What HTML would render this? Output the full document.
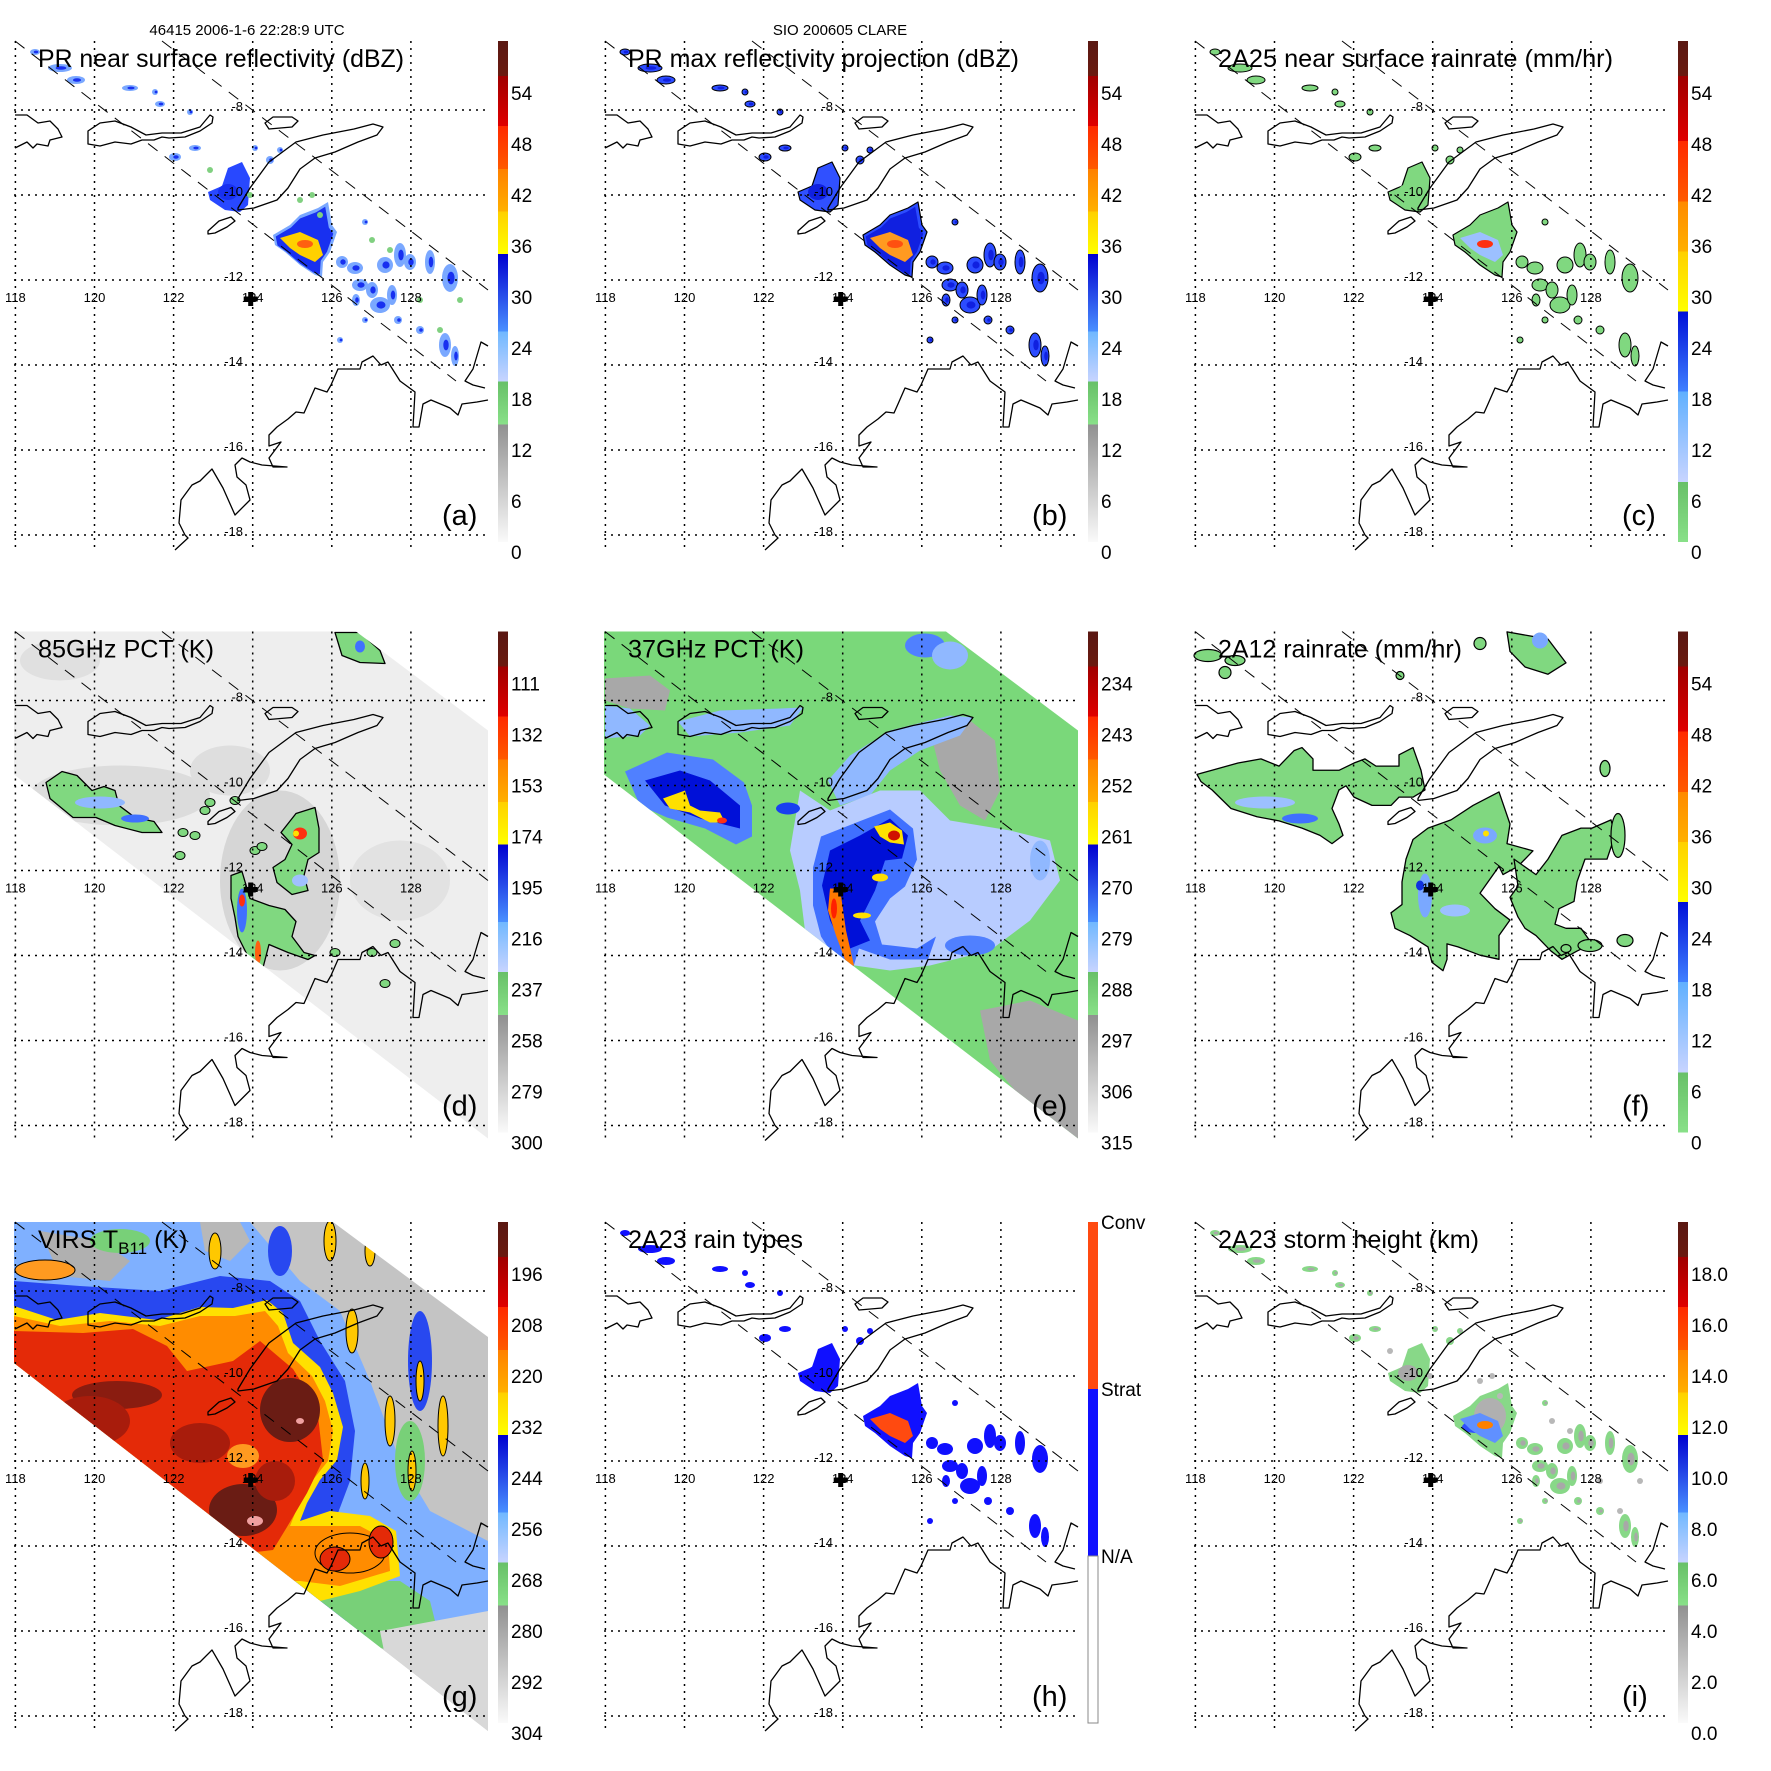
<!DOCTYPE html>
<html><head><meta charset="utf-8">
<style>
html,body{margin:0;padding:0;background:#fff;}
svg{display:block;}
text{font-family:"Liberation Sans",Arial,sans-serif;fill:#000;}
</style></head>
<body>
<svg id="fig" xmlns="http://www.w3.org/2000/svg" width="1771" height="1771" viewBox="0 0 1771 1771">
<defs id="defs"></defs>
<text x="247" y="35" font-size="15" text-anchor="middle">46415 2006-1-6 22:28:9 UTC</text>
<text x="840" y="35" font-size="15" text-anchor="middle">SIO 200605 CLARE</text>
</svg>
<script>
// ---- chart data (tick labels / axes) ----
const lonTicks = [118, 120, 122, 124, 126, 128];
const latTicks = [-8, -10, -12, -14, -16, -18];
const dbzTicks = ['54','48','42','36','30','24','18','12','6','0'];
const rainTicks = ['54','48','42','36','30','24','18','12','6','0'];
const pct85Ticks = ['111','132','153','174','195','216','237','258','279','300'];
const pct37Ticks = ['234','243','252','261','270','279','288','297','306','315'];
const virsTicks = ['196','208','220','232','244','256','268','280','292','304'];
const heightTicks = ['18.0','16.0','14.0','12.0','10.0','8.0','6.0','4.0','2.0','0.0'];
const rainTypeLabels = ['Conv','Strat','N/A'];
const stormCenter = [124.0, -12.4];

const NS = 'http://www.w3.org/2000/svg';
const svg = document.getElementById('fig');
const defs = document.getElementById('defs');
const COLX = [0, 590, 1180], ROWY = [0, 590.5, 1181];
function X(lon){ return 15.4 + (lon - 118) * 39.55; }
function Y(lat){ return 110 + (-8 - lat) * 42.5; }

function mk(tag, attrs, parent, name){
  const e = document.createElementNS(NS, tag);
  for (const k in attrs) e.setAttribute(k, attrs[k]);
  
  
  (parent || svg).appendChild(e);
  return e;
}
function P(pts){ return pts.map(p => p[0] + ',' + p[1]).join(' '); }
function poly(g, pts, fill, name, stroke, sw){
  return mk('polygon', {points: P(pts), fill: fill, stroke: stroke || 'none', 'stroke-width': sw || 1, 'stroke-linejoin':'round'}, g, name);
}
function ell(g, cx, cy, rx, ry, fill, name, stroke, sw){
  return mk('ellipse', {cx: cx, cy: cy, rx: rx, ry: ry, fill: fill, stroke: stroke || 'none', 'stroke-width': sw || 1}, g, name);
}

// ---- geometry (panel-local pixels) ----
const coastSumbawa = [[15,115],[27,115],[38,123],[50,121],[58,129],[62,137],[50,140],[48,146],[37,144],[33,148],[27,142],[15,148]];
const coastFlores = [[88,131],[100,123],[115,121],[131,127],[146,135],[162,133],[181,133],[200,127],[210,115],[213,117],[212,123],[200,131],[185,137],[169,138],[162,137],[154,140],[142,140],[131,144],[115,142],[100,146],[88,144]];
const coastWetar = [[265,123],[273,117],[292,117],[298,121],[292,127],[269,129]];
const coastTimor = [[238,208],[250,188],[269,162],[296,142],[323,135],[354,129],[373,124],[383,127],[377,135],[358,142],[335,152],[315,158],[300,169],[288,188],[277,200],[254,208],[238,210]];
const coastSumba = [[208,231],[219,221],[231,217],[235,221],[227,227],[215,233],[208,234]];
const coastAus = [[488,400],[477,402],[462,404],[458,415],[450,408],[431,400],[423,404],[419,427],[413,427],[415,392],[400,381],[388,362],[381,365],[373,356],[362,362],[360,369],[338,369],[331,385],[327,392],[315,388],[308,404],[304,413],[296,412],[288,419],[277,427],[269,435],[269,446],[281,442],[269,458],[273,467],[287,467],[262,465],[250,462],[242,458],[235,465],[237,477],[246,485],[250,500],[235,515],[223,488],[212,469],[200,481],[192,485],[181,500],[179,523],[185,535],[188,538],[175,550]];
const coastAus2 = [[488,346],[481,342],[473,369],[465,381],[473,385],[485,388]];

const tmiSwath = [[14,41],[356,41],[488,140],[488,548],[14,184]];
const virsSwath = [[14,41],[333,41],[488,156],[488,550],[14,182]];

const prCells = [[35,52,5,3],[60,68,12,4],[76,80,9,4],[130,88,8,3],[155,92,3,3],[160,104,5,3],[190,112,3,3],[175,157,6,4],[195,148,6,3],[255,148,3,3],[270,160,4,4],[280,150,3,3],[342,262,6,6],[355,268,8,6],[360,285,8,6],[372,290,6,8],[380,305,10,8],[392,295,5,10],[385,265,8,8],[400,255,6,12],[410,262,6,8],[430,262,5,12],[450,278,8,14],[398,320,4,4],[420,330,4,4],[445,345,6,12],[455,356,4,10],[340,340,3,3],[365,320,3,3],[365,222,3,3],[356,300,4,6]];
const prCluster2 = [[208,192],[222,186],[228,168],[242,162],[250,178],[248,205],[240,212],[225,210],[210,200]];
const prMain = [[273,235],[290,225],[300,215],[318,208],[328,202],[332,225],[337,232],[330,252],[323,262],[322,277],[315,275],[300,265],[285,252],[275,245]];
const prCore = [[280,238],[300,232],[318,240],[323,255],[315,262],[300,255],[290,248]];

function clipTo(g, id, shape){
  const cid = 'clip-' + id;
  const cp = mk('clipPath', {id: cid}, defs, 'swath-clip');
  poly(cp, shape, '#000', 'swath-clip-shape');
  return mk('g', {'clip-path':'url(#' + cid + ')'}, g, 'swath-clipped-layer');
}

// bands: [start, end, topColor, bottomColor]
function colorbarBands(kind){
  if (kind === 'rain') return [[0,0.07,'#5a1812','#6a1a10'],[0.07,0.2,'#a00000','#e00000'],[0.2,0.32,'#ff2a00','#ff5a00'],[0.32,0.42,'#ff8a00','#ffb000'],[0.42,0.54,'#ffd000','#ffff00'],[0.54,0.7,'#0010d8','#4080ff'],[0.7,0.88,'#60b0ff','#c8d4ff'],[0.88,1,'#68c068','#88e088']];
  return [[0,0.07,'#5a1812','#6a1a10'],[0.07,0.17,'#a00000','#e00000'],[0.17,0.255,'#ff2a00','#ff5a00'],[0.255,0.34,'#ff8000','#ffb000'],[0.34,0.425,'#ffd000','#ffff00'],[0.425,0.58,'#0000d0','#4a90ff'],[0.58,0.68,'#70b8ff','#c8d4ff'],[0.68,0.765,'#68c068','#88e088'],[0.765,1,'#909090','#fafafa']];
}
function drawColorbar(g, id, kind, ticks){
  const bar = mk('g', {}, g, 'colorbar');
  if (kind === 'types'){
    mk('rect', {x:498, y:41, width:10, height:167, fill:'#ff4a10'}, bar, 'colorbar-conv');
    mk('rect', {x:498, y:208, width:10, height:167, fill:'#1010ff'}, bar, 'colorbar-strat');
    mk('rect', {x:498, y:375, width:10, height:167, fill:'#fff', stroke:'#888', 'stroke-width':1}, bar, 'colorbar-na');
    const ys = [41, 208, 375];
    rainTypeLabels.forEach((t, i) => {
      const tx = mk('text', {x:511, y:ys[i] + 7, 'font-size':19}, bar, 'colorbar-label');
      tx.textContent = t;
    });
    return;
  }
  const gid = 'grad-' + id;
  const lg = mk('linearGradient', {id: gid, x1:0, y1:0, x2:0, y2:1}, defs, 'colorbar-gradient');
  colorbarBands(kind).forEach(b => {
    mk('stop', {offset: b[0], 'stop-color': b[2]}, lg, 'gradient-stop');
    mk('stop', {offset: b[1], 'stop-color': b[3]}, lg, 'gradient-stop');
  });
  mk('rect', {x:498, y:41, width:10, height:501, fill:'url(#' + gid + ')'}, bar, 'colorbar-fill');
  ticks.forEach((t, i) => {
    const tx = mk('text', {x:511, y:95 + 51 * i + 5, 'font-size':19}, bar, 'colorbar-tick-label');
    tx.textContent = t;
  });
}

function drawBase(g){
  const cg = mk('g', {fill:'none', stroke:'#000', 'stroke-width':1.3, 'stroke-linejoin':'round'}, g, 'coastlines');
  mk('polyline', {points: P(coastSumbawa)}, cg, 'coast-sumbawa');
  mk('polygon', {points: P(coastFlores)}, cg, 'coast-flores');
  mk('polygon', {points: P(coastWetar)}, cg, 'coast-wetar');
  mk('polygon', {points: P(coastTimor)}, cg, 'coast-timor');
  mk('polygon', {points: P(coastSumba)}, cg, 'coast-sumba');
  mk('polyline', {points: P(coastAus)}, cg, 'coast-australia');
  mk('polyline', {points: P(coastAus2)}, cg, 'coast-australia-east');
  const dg = mk('g', {stroke:'#000', 'stroke-width':1, 'stroke-dasharray':'12 9'}, g, 'pr-swath-edges');
  mk('line', {x1:162, y1:41, x2:488, y2:290}, dg, 'pr-swath-edge-upper');
  mk('line', {x1:15, y1:41, x2:456, y2:381}, dg, 'pr-swath-edge-lower');
  const gg = mk('g', {stroke:'#000', 'stroke-width':1.5, 'stroke-dasharray':'2 5'}, g, 'graticule');
  lonTicks.forEach(lon => {
    mk('line', {x1:X(lon), y1:41, x2:X(lon), y2:550}, gg, 'meridian');
    const t = mk('text', {x:X(lon), y:302, 'font-size':13, 'text-anchor':'middle', stroke:'none'}, g, 'lon-label');
    t.textContent = lon;
  });
  latTicks.forEach(lat => {
    mk('line', {x1:14, y1:Y(lat), x2:488, y2:Y(lat)}, gg, 'parallel');
    const t = mk('text', {x:243, y:Y(lat) + 1, 'font-size':13, 'text-anchor':'end'}, g, 'lat-label');
    t.textContent = lat;
  });
  const cx = X(stormCenter[0]) - 2, cy = Y(stormCenter[1]) + 2;
  mk('path', {d:'M'+(cx-7)+','+cy+' h14 M'+cx+','+(cy-7)+' v14', stroke:'#000', 'stroke-width':5}, g, 'storm-center-marker');
}

function drawTitle(g, text, len, sub){
  const t = mk('text', {x:38, y:67, 'font-size':25, textLength: len, lengthAdjust:'spacingAndGlyphs'}, g, 'panel-title');
  if (sub){
    t.removeAttribute('textLength');
    t.textContent = 'VIRS T';
    const s = mk('tspan', {'font-size':17, dy:6}, t, 'title-subscript');
    s.textContent = 'B11';
    const r = mk('tspan', {dy:-6}, t, 'title-units');
    r.textContent = ' (K)';
  } else t.textContent = text;
}
function drawLetter(g, letter){
  const t = mk('text', {x:442, y:525, 'font-size':29}, g, 'panel-letter');
  t.textContent = '(' + letter + ')';
}

function drawPR(g, kind){
  const st = {
    a: {cell:'#7aa8ff', edge:'none', inner:'#1830f0', c2:'#2848ff', core:'#ffd000', hot:'#ff6010', spk:'#80d080'},
    b: {cell:'#2c4cff', edge:'#000', inner:'#1020e0', c2:'#3050ff', core:'#ff9a20', hot:'#ff5010', spk:'#2c4cff'},
    c: {cell:'#80d880', edge:'#000', inner:'#80d880', c2:'#80d880', core:'#9cc0ff', hot:'#ff3010', spk:'#80d880'},
    h: {cell:'#1010ff', edge:'none', inner:'#1010ff', c2:'#1010ff', core:'#ff4a10', hot:'#ff4a10', spk:'#1010ff'},
    i: {cell:'#88d888', edge:'none', inner:'#a8a8a8', c2:'#88d888', core:'#6090ff', hot:'#ff8000', spk:'#b8b8b8'}
  }[kind];
  const d = mk('g', {}, g, 'pr-rain-cells');
  prCells.forEach(c => ell(d, c[0], c[1], c[2], c[3], st.cell, 'rain-cell', st.edge, 1));
  prCells.forEach(c => ell(d, c[0] + 1, c[1], c[2] * 0.45, c[3] * 0.45, st.inner, 'rain-cell-core'));
  poly(d, prCluster2, st.c2, 'rain-cluster-timor', st.edge, 1.2);
  ell(d, 228, 192, 10, 8, st.inner, 'rain-cluster-core');
  poly(d, prMain, st.cell, 'rain-main-storm', st.edge, 1.2);
  if (kind === 'a' || kind === 'b' || kind === 'h') poly(d, prMain.map(p => [p[0]*0.9+30, p[1]*0.9+25]), st.inner, 'rain-main-inner');
  if (kind === 'i') { ell(d, 310, 235, 16, 18, '#b0b0b0', 'height-grey'); ell(d, 296, 246, 14, 6, '#3050ff', 'height-blue'); }
  poly(d, prCore, st.core, 'rain-main-core');
  ell(d, 305, 244, 8, 4, st.hot, 'rain-hot-core');
  if (kind === 'a' || kind === 'i') {
    [[300,200],[312,195],[320,215],[250,195],[210,170],[390,250],[420,300],[440,330],[460,300],[372,240]].forEach(p => ell(d, p[0], p[1], 3, 3, st.spk, 'speckle'));
  }
}

const d85West = [[46,192],[62,181],[77,185],[92,200],[104,196],[115,200],[119,215],[135,227],[154,231],[162,242],[142,242],[115,235],[96,227],[73,227],[50,208]];
const d85East = [[281,242],[296,223],[315,217],[319,238],[319,262],[308,269],[304,285],[308,300],[292,304],[277,292],[273,277],[285,269],[292,254]];
const d85South = [[231,285],[242,281],[250,308],[269,315],[285,319],[296,331],[292,346],[304,362],[315,365],[308,369],[288,362],[269,354],[262,381],[254,381],[246,362],[238,346],[235,327],[231,308]];
const d85North = [[335,42],[360,42],[380,60],[385,73],[360,72],[342,65]];
function drawD(g){
  poly(g, tmiSwath, '#eeeeee', 'tmi-swath');
  const C = clipTo(g, 'd', tmiSwath);
  const sh = mk('g', {}, C, 'pct85-shading');
  ell(sh, 120, 205, 90, 30, '#dcdcdc', 'shade');
  ell(sh, 280, 290, 60, 90, '#d6d6d6', 'shade');
  ell(sh, 60, 70, 40, 20, '#e0e0e0', 'shade');
  ell(sh, 230, 180, 40, 25, '#dedede', 'shade');
  ell(sh, 400, 290, 50, 40, '#e2e2e2', 'shade');
  const bl = mk('g', {}, C, 'pct85-convection');
  [d85West, d85East, d85South, d85North].forEach(p => poly(bl, p, '#80d880', 'pct85-cell', '#000', 1.3));
  ell(bl, 100, 212, 25, 6, '#90b8ff', 'pct85-blue');
  ell(bl, 135, 228, 14, 4, '#4070ff', 'pct85-blue');
  ell(bl, 300, 243, 7, 6, '#ff3010', 'pct85-red');
  ell(bl, 296, 243, 3, 3, '#ffe000', 'pct85-yellow');
  ell(bl, 300, 290, 8, 6, '#a0c0ff', 'pct85-blue');
  ell(bl, 242, 320, 5, 22, '#4070ff', 'pct85-blue');
  ell(bl, 242, 310, 3, 6, '#ff3010', 'pct85-red');
  ell(bl, 258, 362, 3, 12, '#ff6010', 'pct85-red');
  ell(bl, 360, 56, 5, 6, '#4070ff', 'pct85-blue');
  [[183,242],[195,245],[210,212],[205,220],[235,210],[255,260],[180,265],[262,256],[372,362],[395,353],[385,393],[335,362]].forEach(p => ell(bl, p[0], p[1], 5, 4, '#80d880', 'pct85-small', '#000', 1));
}

function drawE(g){
  poly(g, tmiSwath, '#7ad87a', 'tmi-swath');
  const L = clipTo(g, 'e', tmiSwath);
  poly(L, [[15,88],[60,85],[80,100],[75,120],[40,118],[15,110]], '#a8a8a8', 'pct37-grey');
  poly(L, [[340,140],[380,130],[405,150],[410,200],[395,230],[370,215],[350,180]], '#a8a8a8', 'pct37-grey');
  poly(L, [[390,420],[440,410],[488,430],[488,548],[440,518],[400,470]], '#a8a8a8', 'pct37-grey');
  poly(L, [[88,131],[130,120],[190,118],[213,117],[200,135],[150,142],[100,146]], '#90b8ff', 'pct37-lightblue');
  poly(L, [[238,190],[260,165],[300,140],[360,125],[383,127],[370,145],[330,160],[300,180],[280,205],[250,215]], '#90b8ff', 'pct37-lightblue');
  poly(L, [[15,115],[40,118],[60,135],[50,145],[15,148]], '#90b8ff', 'pct37-lightblue');
  poly(L, [[210,200],[240,220],[290,200],[330,200],[360,230],[420,240],[460,250],[470,290],[440,330],[400,360],[340,375],[300,380],[230,370],[215,340],[210,300],[200,260]], '#b8ccff', 'pct37-lightblue');
  poly(L, [[35,181],[77,162],[123,169],[154,192],[162,215],[162,246],[146,254],[115,238],[77,227],[50,215]], '#5080ff', 'pct37-blue-west');
  poly(L, [[55,190],[90,180],[120,190],[150,215],[150,238],[110,228],[75,215]], '#0010d8', 'pct37-darkblue-west');
  poly(L, [[231,246],[269,231],[300,219],[323,238],[327,269],[315,296],[300,308],[285,331],[292,354],[327,358],[346,346],[338,369],[300,369],[269,358],[262,381],[246,369],[231,346],[223,315],[223,277]], '#4070ff', 'pct37-blue-center');
  poly(L, [[240,260],[270,245],[300,228],[318,245],[312,268],[295,270],[285,300],[270,330],[280,350],[255,360],[240,330],[232,295]], '#0010d8', 'pct37-darkblue-center');
  ell(L, 198, 218, 12, 6, '#1840f0', 'pct37-blue');
  ell(L, 335, 55, 20, 12, '#5080ff', 'pct37-blue-north');
  ell(L, 360, 65, 18, 14, '#90b8ff', 'pct37-lightblue-north');
  ell(L, 450, 270, 10, 20, '#90b8ff', 'pct37-lightblue');
  ell(L, 380, 355, 25, 10, '#5080ff', 'pct37-blue');
  poly(L, [[73,208],[95,200],[100,215],[110,220],[130,222],[135,232],[120,232],[100,222],[80,218]], '#ffe000', 'pct37-yellow-west');
  ell(L, 132, 230, 5, 3, '#ff3010', 'pct37-red');
  poly(L, [[284,236],[300,232],[312,240],[314,254],[300,252],[290,246]], '#ffe000', 'pct37-yellow-center');
  ell(L, 304, 245, 6, 5, '#d01000', 'pct37-red-center');
  ell(L, 290, 287, 8, 4, '#ffe000', 'pct37-yellow');
  poly(L, [[240,298],[250,298],[256,340],[264,375],[258,377],[246,345],[238,320]], '#ff7a00', 'pct37-orange-column');
  ell(L, 244, 318, 3, 10, '#ff2000', 'pct37-red-column');
  ell(L, 272, 325, 9, 3, '#ffe000', 'pct37-yellow');
}

const f12West = [[17,178],[32,174],[58,167],[81,163],[99,170],[114,155],[122,152],[133,163],[133,174],[159,174],[174,167],[185,163],[196,170],[219,170],[219,159],[233,152],[241,174],[245,193],[233,200],[219,200],[211,208],[192,208],[174,200],[166,189],[159,193],[152,211],[159,226],[163,237],[152,245],[140,237],[122,230],[99,223],[77,219],[51,211],[32,193],[21,185]];
const f12Main = [[233,241],[248,230],[271,222],[293,208],[319,195],[330,226],[327,245],[353,252],[338,267],[323,275],[319,267],[300,293],[315,308],[330,319],[319,334],[319,357],[300,353],[278,345],[267,342],[267,357],[263,368],[252,360],[248,345],[230,334],[215,327],[211,312],[222,304],[222,282],[226,260]];
const f12East = [[334,260],[356,275],[368,260],[382,237],[401,230],[412,230],[431,222],[435,237],[427,260],[405,260],[397,282],[394,301],[379,308],[375,323],[386,327],[401,327],[412,342],[397,349],[382,357],[371,349],[356,334],[345,327],[338,316],[330,297],[338,286]];
const f12North = [[327,40],[368,47],[386,70],[368,81],[345,74],[330,59]];
function fy(p){ return [p[0], (p[1] + 1) * 1.033 - 1]; }
function drawF(g){
  const L = mk('g', {}, g, 'rainrate-2a12');
  [f12West, f12Main, f12East, f12North].forEach(p => poly(L, p.map(fy), '#80d880', 'rain-area', '#000', 1.3));
  [[438,245,7,22],[425,178,5,8],[28,65,14,6],[55,70,10,5],[45,82,6,6],[445,350,8,6],[410,355,12,6],[386,358,5,4],[300,53,6,6],[220,85,4,4]].forEach(c => ell(L, c[0], c[1], c[2], c[3], '#80d880', 'rain-small', '#000', 1.2));
  ell(L, 85, 212, 30, 6, '#9cc0ff', 'rain-blue');
  ell(L, 120, 228, 18, 5, '#4070ff', 'rain-blue');
  ell(L, 305, 245, 12, 8, '#7aa8ff', 'rain-blue');
  ell(L, 306, 243, 3, 3, '#ffe000', 'rain-yellow');
  ell(L, 245, 305, 7, 22, '#7aa8ff', 'rain-blue');
  ell(L, 240, 295, 4, 5, '#1030e0', 'rain-blue');
  ell(L, 275, 320, 15, 6, '#9cc0ff', 'rain-blue');
  ell(L, 360, 50, 8, 8, '#7aa8ff', 'rain-blue');
}

function drawG(g){
  poly(g, virsSwath, '#c4c4c4', 'virs-swath');
  const L = clipTo(g, 'g', virsSwath);
  poly(L, [[14,41],[250,41],[300,100],[340,130],[370,200],[400,280],[430,330],[488,360],[488,470],[400,470],[330,440],[14,182]], '#7fb0ff', 'virs-lightblue');
  poly(L, [[40,50],[100,60],[130,80],[110,100],[60,95]], '#b0b0b0', 'virs-grey');
  poly(L, [[200,41],[240,41],[250,60],[230,80],[205,70]], '#b8b8b8', 'virs-grey');
  ell(L, 120, 60, 30, 12, '#78d078', 'virs-green');
  ell(L, 60, 120, 30, 8, '#78d078', 'virs-green');
  ell(L, 410, 280, 15, 40, '#78d078', 'virs-green');
  poly(L, [[14,100],[80,105],[160,110],[220,95],[270,100],[300,120],[320,160],[345,200],[355,250],[350,300],[335,340],[330,380],[360,420],[400,440],[330,440],[14,182]], '#2848f0', 'virs-blue-ring');
  ell(L, 280, 70, 12, 25, '#2848f0', 'virs-blue');
  ell(L, 420, 180, 12, 50, '#2848f0', 'virs-blue');
  poly(L, [[300,420],[350,400],[400,400],[430,420],[440,460],[400,470],[330,460]], '#78d078', 'virs-green-band');
  poly(L, [[380,450],[488,430],[488,550],[400,550]], '#d8d8d8', 'virs-lightgrey');
  const W = mk('g', {stroke:'#000', 'stroke-width':1.2}, L, 'virs-cold-tops');
  poly(W, [[14,125],[57,139],[100,132],[157,139],[200,126],[233,127],[267,119],[283,132],[293,162],[320,186],[333,212],[343,246],[337,279],[320,299],[307,322],[300,340],[330,330],[370,335],[396,350],[400,395],[360,410],[320,420],[290,410],[14,400]], '#ffe000', 'virs-yellow');
  poly(W, [[14,135],[60,145],[110,140],[160,145],[200,135],[235,135],[265,130],[278,145],[288,172],[312,195],[325,220],[333,250],[328,280],[312,300],[298,325],[290,345],[320,345],[360,345],[388,360],[390,390],[340,405],[300,400],[14,400]], '#ff8c00', 'virs-orange');
  poly(W, [[14,150],[83,152],[133,148],[167,165],[187,190],[233,180],[260,160],[293,188],[317,226],[323,279],[307,312],[287,346],[273,369],[14,400]], '#e42a08', 'virs-red');
  const D = mk('g', {}, L, 'virs-coldest');
  ell(D, 290, 229, 30, 32, '#6a1c14', 'virs-darkred');
  ell(D, 243, 329, 34, 26, '#6a1c14', 'virs-darkred');
  ell(D, 117, 214, 45, 14, '#8a1c10', 'virs-darkred');
  ell(D, 200, 262, 30, 20, '#a81c0c', 'virs-darkred');
  ell(D, 275, 300, 20, 20, '#a81c0c', 'virs-darkred');
  ell(D, 90, 240, 40, 25, '#a81c0c', 'virs-darkred');
  ell(D, 255, 340, 8, 5, '#f0a0a0', 'virs-pink');
  ell(D, 300, 240, 4, 3, '#f0a0a0', 'virs-pink');
  ell(D, 243, 275, 16, 12, '#ff9a20', 'virs-orange-blob');
  ell(D, 45, 89, 30, 10, '#ff9a20', 'virs-orange-blob', '#000', 1);
  [[352,150,6,22],[390,240,5,25],[443,245,5,30],[330,60,6,20],[215,70,6,18],[370,70,5,15],[420,200,4,20],[412,290,4,20],[365,300,4,18]].forEach(c => ell(D, c[0], c[1], c[2], c[3], '#ffc800', 'virs-streak', '#000', 1));
  ell(D, 350, 372, 35, 20, '#ff8c00', 'virs-orange-blob', '#000', 1);
  ell(D, 381, 361, 12, 16, '#e42a08', 'virs-red-blob', '#000', 1);
  ell(D, 335, 378, 15, 12, '#e42a08', 'virs-red-blob', '#000', 1);
}

const panels = [
  {id:'a', c:0, r:0, title:'PR near surface reflectivity (dBZ)', len:366, bar:'std', ticks:dbzTicks},
  {id:'b', c:1, r:0, title:'PR max reflectivity projection (dBZ)', len:391, bar:'std', ticks:dbzTicks},
  {id:'c', c:2, r:0, title:'2A25 near surface rainrate (mm/hr)', len:395, bar:'rain', ticks:rainTicks},
  {id:'d', c:0, r:1, title:'85GHz PCT (K)', len:176, bar:'std', ticks:pct85Ticks},
  {id:'e', c:1, r:1, title:'37GHz PCT (K)', len:176, bar:'std', ticks:pct37Ticks},
  {id:'f', c:2, r:1, title:'2A12 rainrate (mm/hr)', len:244, bar:'rain', ticks:rainTicks},
  {id:'g', c:0, r:2, title:'VIRS', len:0, bar:'std', ticks:virsTicks, sub:true},
  {id:'h', c:1, r:2, title:'2A23 rain types', len:175, bar:'types', ticks:[]},
  {id:'i', c:2, r:2, title:'2A23 storm height (km)', len:261, bar:'std', ticks:heightTicks}
];
panels.forEach(p => {
  const g = mk('g', {transform:'translate(' + COLX[p.c] + ',' + ROWY[p.r] + ')'}, svg, 'panel-' + p.id);
  if (p.id === 'd') drawD(g);
  else if (p.id === 'e') drawE(g);
  else if (p.id === 'f') drawF(g);
  else if (p.id === 'g') drawG(g);
  else drawPR(g, p.id);
  drawBase(g);
  drawColorbar(g, p.id, p.bar, p.ticks);
  drawTitle(g, p.title, p.len, p.sub);
  drawLetter(g, p.id);
});
</script>
</body></html>
